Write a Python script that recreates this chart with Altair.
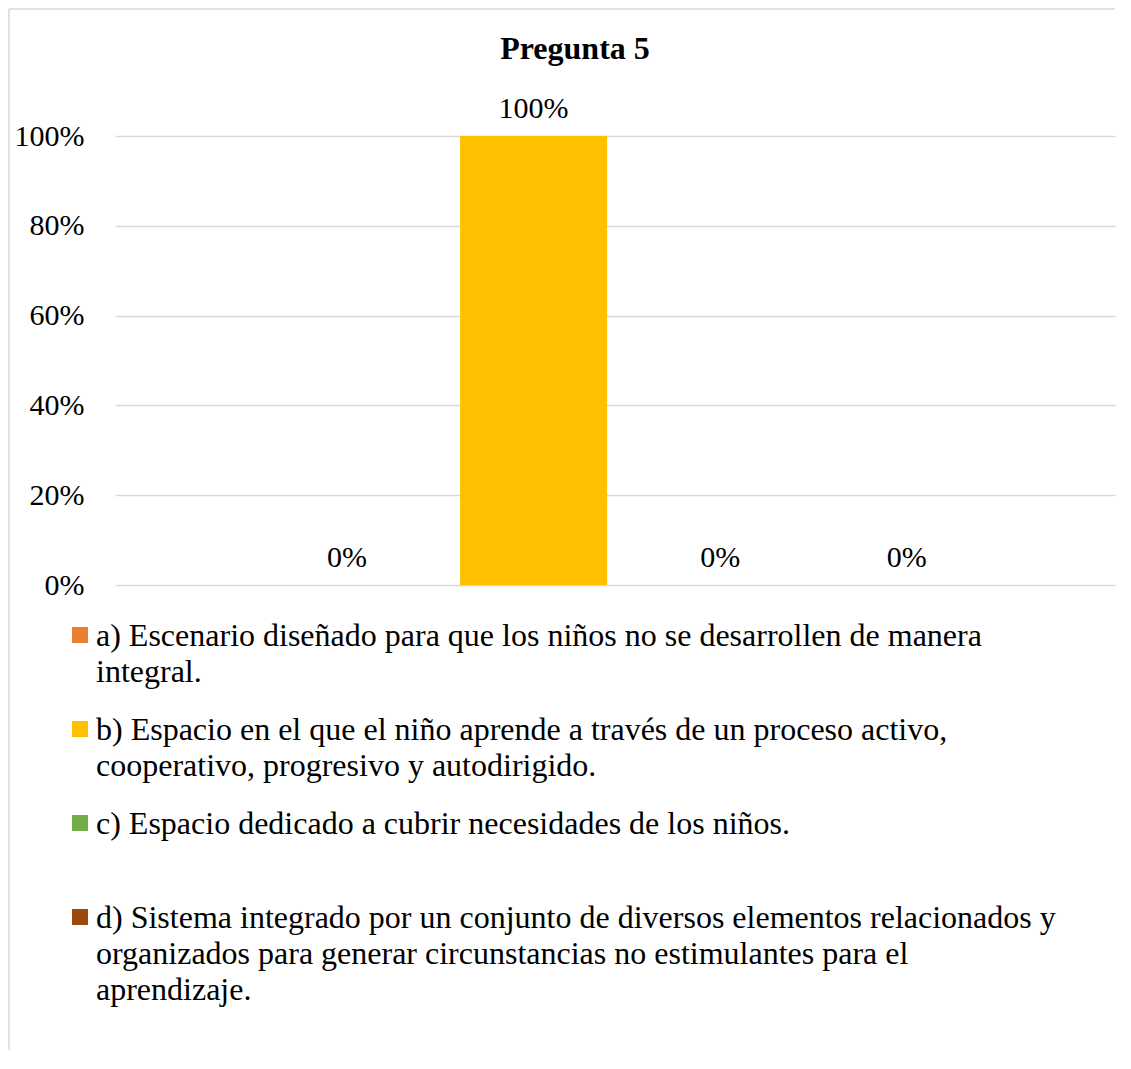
import textwrap
import altair as alt
import pandas as pd

TITLE = "Pregunta 5"
SERIES = [
    "a) Escenario diseñado para que los niños no se desarrollen de manera integral.",
    "b) Espacio en el que el niño aprende a través de un proceso activo, cooperativo, progresivo y autodirigido.",
    "c) Espacio dedicado a cubrir necesidades de los niños.",
    "d) Sistema integrado por un conjunto de diversos elementos relacionados y organizados para generar circunstancias no estimulantes para el aprendizaje.",
]
VALUES = [0.0, 1.0, 0.0, 0.0]
COLORS = ["#ED7D31", "#FFC000", "#70AD47", "#9E480E"]
Y_TICKS = [0, 0.2, 0.4, 0.6, 0.8, 1.0]

FONT = "Liberation Serif"
W, H = 1000, 449

df = pd.DataFrame({
    "series": SERIES,
    "value": VALUES,
    "wrapped": ["\n".join(textwrap.wrap(s, width=74)) for s in SERIES],
})

color = alt.Color("series:N", sort=SERIES, scale=alt.Scale(domain=SERIES, range=COLORS), legend=None)
xenc = alt.X("series:N", sort=SERIES, axis=None,
             scale=alt.Scale(paddingInner=0.212, paddingOuter=0.7855, align=0.5406))

bars = alt.Chart(df).mark_bar().encode(
    x=xenc,
    y=alt.Y("value:Q", scale=alt.Scale(domain=[0, 1]),
            axis=alt.Axis(values=Y_TICKS, format=".0%", title=None, ticks=False, domain=False,
                          labelFont=FONT, labelFontSize=30, labelColor="#000000", labelPadding=31,
                          grid=True, gridColor="#d9d9d9", gridWidth=1.5)),
    color=color,
)

labels = alt.Chart(df).mark_text(font=FONT, fontSize=30, color="#000000", baseline="alphabetic", dy=-18).encode(
    x=xenc,
    y=alt.Y("value:Q", scale=alt.Scale(domain=[0, 1]), axis=None),
    text=alt.Text("value:Q", format=".0%"),
)

leg_y = alt.Y("series:N", sort=SERIES, axis=None,
              scale=alt.Scale(type="point", range=[499, 781], padding=0))

leg_sq = alt.Chart(df).mark_square(size=256, opacity=1, filled=True).encode(
    x=alt.value(-35), y=leg_y, color=color,
)
leg_txt = alt.Chart(df).mark_text(font=FONT, fontSize=32, color="#000000", align="left",
                                  baseline="top", dy=-14, lineBreak="\n", lineHeight=36).encode(
    x=alt.value(-19), y=leg_y, text="wrapped:N",
)

one = alt.Data(values=[{"t": TITLE}])
title = alt.Chart(one).mark_text(font=FONT, fontSize=32, fontWeight="bold", color="#000000",
                                 align="center", baseline="alphabetic").encode(
    x=alt.value(460), y=alt.value(-77), text="t:N",
)
border_left = alt.Chart(one).mark_rule(color="#d9d9d9", strokeWidth=1.5).encode(
    x=alt.value(-106), y=alt.value(-127), y2=alt.value(914),
)
border_top = alt.Chart(one).mark_rule(color="#d9d9d9", strokeWidth=1.5).encode(
    x=alt.value(-106), x2=alt.value(W), y=alt.value(-127),
)

chart = alt.layer(bars, labels, leg_sq, leg_txt, title, border_left, border_top).resolve_scale(
    y="independent"
).properties(
    width=W, height=H, padding=0,
).configure_view(stroke="transparent")

chart.save("out.html", embed_options={"renderer": "svg", "actions": False})
